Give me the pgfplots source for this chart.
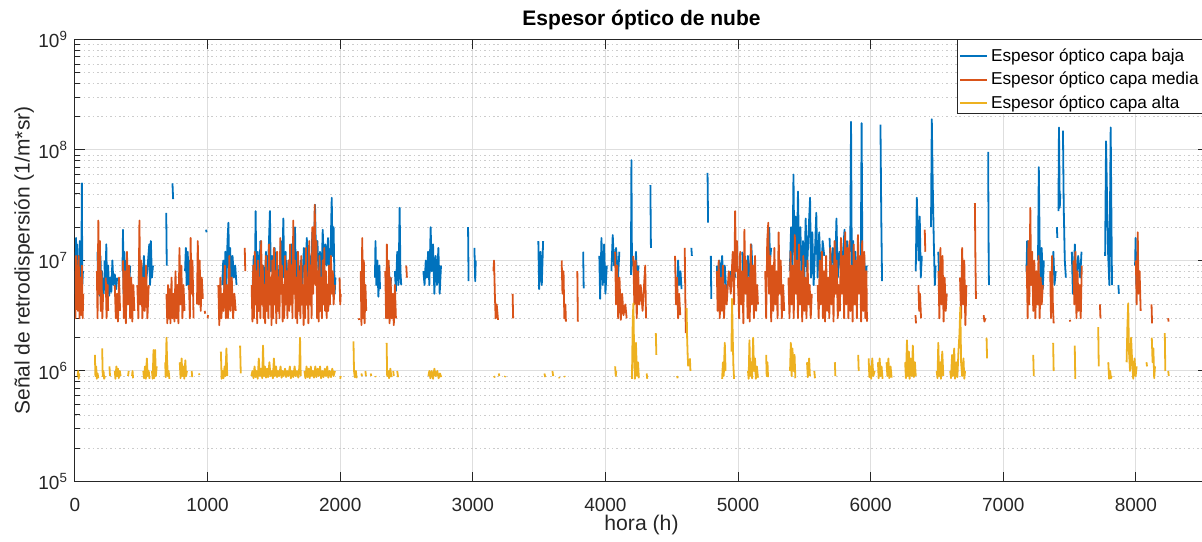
\documentclass[border=0pt]{standalone}
\usepackage{fontspec}
\setmainfont{Liberation Sans}
\usepackage{pgfplots}
\usepackage{pgfplotstable}
\pgfplotsset{compat=1.18}

\definecolor{mlblue}{rgb}{0,0.447,0.741}
\definecolor{mlorange}{rgb}{0.850,0.325,0.098}
\definecolor{mlyellow}{rgb}{0.929,0.694,0.125}
\definecolor{axgray}{rgb}{0.15,0.15,0.15}
\definecolor{gridmaj}{rgb}{0.87,0.87,0.87}
\definecolor{gridmin}{rgb}{0.80,0.80,0.80}

% capa baja (hour, backscatter); nan separates the gaps
\pgfplotstableread[row sep=\\]{
x y\\
0 1.2e7\\ 4 5e6\\ 8 1.6e7\\ 12 6e6\\ 16 1.4e7\\ 20 4.5e6\\ 25 1.1e7\\ 30 5.5e6\\ 36 1.5e7\\ 42 7e6\\ 48 9e6\\ 52 5e7\\ 55 6e6\\ 60 8e6\\ 61 nan\\
170 1.2e7\\ 174 5e6\\ 180 9e6\\ 186 4.8e6\\ 192 1.1e7\\ 198 6e6\\ 204 8e6\\ 210 5e6\\ 214 7e6\\ 215 nan\\
222 1e7\\ 228 5e6\\ 236 1.4e7\\ 242 5.5e6\\ 250 9e6\\ 258 4.8e6\\ 266 7e6\\ 274 5.2e6\\ 282 1e7\\ 290 6e6\\ 300 7.5e6\\ 310 5.5e6\\ 318 7e6\\ 319 nan\\
358 8e6\\ 362 1.9e7\\ 366 5e6\\ 372 1.2e7\\ 378 6e6\\ 386 1e7\\ 392 4.8e6\\ 400 8e6\\ 408 5.5e6\\ 416 9e6\\ 417 nan\\
480 6e6\\ 486 1.1e7\\ 492 6e6\\ 500 9e6\\ 508 5e6\\ 520 1.1e7\\ 530 6e6\\ 545 8e6\\ 560 1.4e7\\ 566 6e6\\ 572 1.5e7\\ 580 7e6\\ 588 9e6\\ 589 nan\\
688 2.7e7\\ 692 9e6\\ 693 nan\\
735 5e7\\ 740 3.6e7\\ 741 nan\\
830 8e6\\ 836 1.3e7\\ 842 6e6\\ 850 1.2e7\\ 858 5.5e6\\ 866 1e7\\ 872 6e6\\ 873 nan\\
988 1.9e7\\ 992 1.8e7\\ 993 nan\\
1110 6e6\\ 1118 1e7\\ 1126 5.5e6\\ 1134 1.2e7\\ 1142 6e6\\ 1150 1.5e7\\ 1157 2.2e7\\ 1163 7e6\\ 1170 1.3e7\\ 1178 6e6\\ 1188 1.1e7\\ 1198 7e6\\ 1208 9e6\\ 1218 6e6\\ 1219 nan\\
1340 6e6\\ 1348 1.1e7\\ 1356 5e6\\ 1362 2.8e7\\ 1368 7e6\\ 1378 1.2e7\\ 1388 5.5e6\\ 1398 1.5e7\\ 1408 6e6\\ 1418 9e6\\ 1428 5e6\\ 1440 1.2e7\\ 1450 6.5e6\\ 1462 1.4e7\\ 1470 2.8e7\\ 1476 8e6\\ 1486 1.1e7\\ 1496 5.5e6\\ 1506 1.3e7\\ 1516 6e6\\ 1528 9e6\\ 1540 5e6\\ 1552 1.5e7\\ 1562 7e6\\ 1571 2.4e7\\ 1578 7e6\\ 1588 1.2e7\\ 1598 5e6\\ 1610 1e7\\ 1622 6e6\\ 1634 1.4e7\\ 1646 7e6\\ 1659 2e7\\ 1666 6e6\\ 1678 1.2e7\\ 1690 5.5e6\\ 1702 1e7\\ 1714 6e6\\ 1726 1.3e7\\ 1738 7e6\\ 1748 1.6e7\\ 1758 6e6\\ 1770 1.1e7\\ 1780 8e6\\ 1790 1.8e7\\ 1800 9e6\\ 1810 3.2e7\\ 1818 1e7\\ 1828 1.5e7\\ 1838 7e6\\ 1848 1.2e7\\ 1858 6e6\\ 1868 1.9e7\\ 1878 8e6\\ 1888 1.4e7\\ 1898 9e6\\ 1908 1.6e7\\ 1918 7e6\\ 1928 1.3e7\\ 1936 3.7e7\\ 1942 1.1e7\\ 1950 2e7\\ 1958 5e6\\ 1964 7e6\\ 1965 nan\\
2262 7e6\\ 2266 1.5e7\\ 2272 6e6\\ 2280 1e7\\ 2288 4.7e6\\ 2296 9e6\\ 2300 5.5e6\\ 2301 nan\\
2352 1.2e7\\ 2358 6e6\\ 2366 9e6\\ 2376 5.5e6\\ 2384 7e6\\ 2385 nan\\
2412 8e6\\ 2420 5.3e6\\ 2430 1.2e7\\ 2440 6e6\\ 2448 3e7\\ 2454 8e6\\ 2460 6e6\\ 2461 nan\\
2627 8e6\\ 2636 6e6\\ 2645 1e7\\ 2654 7e6\\ 2663 1.2e7\\ 2672 6e6\\ 2682 2e7\\ 2690 8e6\\ 2700 1.4e7\\ 2710 5e6\\ 2720 1.1e7\\ 2730 6e6\\ 2740 1.3e7\\ 2750 5e6\\ 2760 9e6\\ 2761 nan\\
2964 2e7\\ 2968 6.5e6\\ 2969 nan\\
3012 1.3e7\\ 3018 6.5e6\\ 3022 1e7\\ 3023 nan\\
3494 1.5e7\\ 3500 5.5e6\\ 3510 1.2e7\\ 3520 6e6\\ 3530 1.5e7\\ 3531 nan\\
3832 1.2e7\\ 3836 5.6e6\\ 3837 nan\\
3954 1.1e7\\ 3960 4.5e6\\ 3970 1.6e7\\ 3980 6e6\\ 3990 1.4e7\\ 4000 5e6\\ 4010 9e6\\ 4011 nan\\
4045 8e6\\ 4055 1.7e7\\ 4065 9e6\\ 4080 1.3e7\\ 4095 7e6\\ 4105 1.2e7\\ 4106 nan\\
4192 7.4e6\\ 4196 8.1e7\\ 4200 9e6\\ 4210 1e7\\ 4220 5e6\\ 4230 1.2e7\\ 4240 6e6\\ 4250 9e6\\ 4251 nan\\
4339 4.8e7\\ 4343 1.3e7\\ 4344 nan\\
4540 5e6\\ 4548 1e7\\ 4556 6e6\\ 4566 8e6\\ 4574 5.5e6\\ 4575 nan\\
4648 1.3e7\\ 4652 1.1e7\\ 4653 nan\\
4770 6.2e7\\ 4774 2.2e7\\ 4775 nan\\ 4795 1.1e7\\ 4798 4.5e6\\ 4799 nan\\
4840 9e6\\ 4850 5e6\\ 4860 1e7\\ 4870 5.5e6\\ 4880 1.1e7\\ 4890 6e6\\ 4900 9e6\\ 4912 5e6\\ 4913 nan\\
4940 8e6\\ 4950 6.5e6\\ 4965 9e6\\ 4980 7e6\\ 4981 nan\\
5032 1.2e7\\ 5040 6e6\\ 5050 1e7\\ 5062 5e6\\ 5074 1.1e7\\ 5088 6e6\\ 5100 1.4e7\\ 5112 7e6\\ 5124 9e6\\ 5125 nan\\
5235 2e7\\ 5241 1e7\\ 5250 1.3e7\\ 5251 nan\\
5390 8e6\\ 5400 2e7\\ 5410 8e6\\ 5418 6e7\\ 5424 1.2e7\\ 5434 2.5e7\\ 5442 8e6\\ 5452 4.2e7\\ 5460 1e7\\ 5470 2e7\\ 5480 6e6\\ 5490 1.5e7\\ 5500 7e6\\ 5510 2.4e7\\ 5520 8e6\\ 5530 1.6e7\\ 5543 3.7e7\\ 5550 7e6\\ 5560 1.8e7\\ 5570 6e6\\ 5580 1.2e7\\ 5590 2.7e7\\ 5600 7e6\\ 5612 1.8e7\\ 5625 6e6\\ 5638 1.5e7\\ 5650 1.1e7\\ 5651 nan\\
5690 1.6e7\\ 5700 8e6\\ 5715 1.3e7\\ 5730 6e6\\ 5742 2.4e7\\ 5752 7e6\\ 5765 1.2e7\\ 5778 8e6\\ 5790 1.1e7\\ 5803 1.9e7\\ 5812 9e6\\ 5822 1.5e7\\ 5832 1e7\\ 5833 nan\\
5846 1.2e7\\ 5852 1.8e8\\ 5858 8e6\\ 5868 1.5e7\\ 5876 7e6\\ 5885 1.2e7\\ 5895 6e6\\ 5910 1e7\\ 5925 8e6\\ 5932 1.75e8\\ 5938 7e6\\ 5950 1.1e7\\ 5960 6e6\\ 5970 9e6\\ 5971 nan\\
6074 1.7e8\\ 6080 2.5e7\\ 6086 6.5e6\\ 6087 nan\\
6340 8e6\\ 6348 3.7e7\\ 6355 2e7\\ 6362 1e7\\ 6370 2.5e7\\ 6378 7e6\\ 6386 1.1e7\\ 6387 nan\\
6455 2e7\\ 6461 1.9e8\\ 6468 5e7\\ 6476 1.5e7\\ 6484 6e6\\ 6490 9e6\\ 6491 nan\\
6510 1.2e7\\ 6518 6e6\\ 6526 9e6\\ 6527 nan\\
6886 9.6e7\\ 6890 1e7\\ 6892 6e6\\ 6893 nan\\
7175 8e6\\ 7180 1.5e7\\ 7188 5e6\\ 7196 1.2e7\\ 7204 6e6\\ 7205 nan\\
7262 1e7\\ 7268 7e7\\ 7274 1.5e7\\ 7282 6e6\\ 7290 1.3e7\\ 7298 5.5e6\\ 7306 1e7\\ 7307 nan\\
7372 9e6\\ 7378 1.2e7\\ 7386 6e6\\ 7396 8e6\\ 7397 nan\\
7404 2e7\\ 7408 1.6e7\\ 7409 nan\\
7416 2.8e7\\ 7420 1.6e8\\ 7426 3e7\\ 7430 4e7\\ 7431 nan\\
7450 1.5e8\\ 7456 3e7\\ 7464 1e7\\ 7472 7e6\\ 7473 nan\\
7517 1.2e7\\ 7525 5e6\\ 7540 1.4e7\\ 7550 6e6\\ 7565 1.1e7\\ 7580 7e6\\ 7590 1.2e7\\ 7591 nan\\
7768 1.1e7\\ 7775 1.2e8\\ 7782 4e7\\ 7790 1.2e7\\ 7800 6e6\\ 7810 1.6e8\\ 7815 3e7\\ 7820 6e6\\ 7821 nan\\
7868 6e6\\ 7872 5e6\\ 7873 nan\\
7994 9e6\\ 7998 1.6e7\\ 8004 6e6\\ 8008 8e6\\ 8009 nan\\
}\capabaja

% capa media
\pgfplotstableread[row sep=\\]{
x y\\
0 8e6\\ 4 3e6\\ 8 1.1e7\\ 12 4e6\\ 16 9e6\\ 22 3.5e6\\ 28 1.1e7\\ 34 3e6\\ 40 7e6\\ 46 3.2e6\\ 52 9e6\\ 58 3e6\\ 62 5e6\\ 63 nan\\
165 8e6\\ 170 3e6\\ 176 2.3e7\\ 182 5e6\\ 188 1.5e7\\ 194 3.5e6\\ 200 8e6\\ 206 3e6\\ 212 5e6\\ 213 nan\\
232 7e6\\ 238 3e6\\ 246 6e6\\ 250 3.5e6\\ 251 nan\\
300 6e6\\ 308 3e6\\ 316 5e6\\ 324 2.8e6\\ 332 7e6\\ 340 3.5e6\\ 341 nan\\
362 1e7\\ 368 3e6\\ 376 8e6\\ 384 2.7e6\\ 392 1.2e7\\ 400 4e6\\ 408 9e6\\ 416 3e6\\ 424 7e6\\ 432 2.8e6\\ 440 6e6\\ 448 3.5e6\\ 449 nan\\
470 6e6\\ 478 3e6\\ 486 2.3e7\\ 492 4e6\\ 500 1e7\\ 508 3e6\\ 518 7e6\\ 526 3.5e6\\ 536 9e6\\ 546 3e6\\ 556 6e6\\ 557 nan\\
690 5e6\\ 696 2.7e6\\ 702 6e6\\ 708 3e6\\ 714 5.5e6\\ 720 2.7e6\\ 728 7e6\\ 734 3e6\\ 742 5e6\\ 750 2.8e6\\ 758 8e6\\ 764 3e6\\ 772 6e6\\ 780 2.7e6\\ 788 1.3e7\\ 794 4e6\\ 802 9e6\\ 810 3e6\\ 818 6e6\\ 826 3.5e6\\ 827 nan\\
860 6e6\\ 866 3e6\\ 872 1.6e7\\ 878 5e6\\ 886 1e7\\ 894 3e6\\ 895 nan\\
920 4e6\\ 926 1.5e7\\ 932 4e6\\ 940 1e7\\ 948 3.5e6\\ 956 7e6\\ 964 4.5e6\\ 965 nan\\
978 3.5e6\\ 982 3.3e6\\ 983 nan\\ 1000 3e6\\ 1003 3.2e6\\ 1004 nan\\
1081 6e6\\ 1088 2.6e6\\ 1096 7e6\\ 1104 3e6\\ 1112 5e6\\ 1120 3.5e6\\ 1130 9e6\\ 1138 3e6\\ 1146 6e6\\ 1154 3e6\\ 1164 1.1e7\\ 1172 3.5e6\\ 1182 7e6\\ 1192 3e6\\ 1202 5e6\\ 1212 3.5e6\\ 1213 nan\\
1280 1.3e7\\ 1284 8e6\\ 1285 nan\\
1332 6e6\\ 1338 2.8e6\\ 1344 9e6\\ 1350 3e6\\ 1356 1.2e7\\ 1362 4e6\\ 1368 8e6\\ 1374 2.7e6\\ 1380 1e7\\ 1386 3.5e6\\ 1392 7e6\\ 1398 3e6\\ 1404 1.5e7\\ 1410 4e6\\ 1416 9e6\\ 1422 3e6\\ 1428 6e6\\ 1434 2.7e6\\ 1440 1.1e7\\ 1446 3.5e6\\ 1452 8e6\\ 1458 3e6\\ 1464 1.4e7\\ 1470 4e6\\ 1476 7e6\\ 1482 2.6e6\\ 1488 1e7\\ 1494 3e6\\ 1500 1.3e7\\ 1506 4e6\\ 1512 8e6\\ 1518 2.7e6\\ 1524 1.2e7\\ 1530 3.5e6\\ 1536 7e6\\ 1542 3e6\\ 1548 1.6e7\\ 1554 5e6\\ 1560 9e6\\ 1566 2.8e6\\ 1572 6e6\\ 1578 3e6\\ 1584 1.1e7\\ 1590 4e6\\ 1596 8e6\\ 1602 3e6\\ 1610 1e7\\ 1616 3.5e6\\ 1622 1.4e7\\ 1628 4e6\\ 1634 9e6\\ 1640 3e6\\ 1646 2.3e7\\ 1652 5e6\\ 1658 1e7\\ 1664 3e6\\ 1670 7e6\\ 1676 2.7e6\\ 1682 1.2e7\\ 1688 3.5e6\\ 1694 8e6\\ 1700 3e6\\ 1706 1.1e7\\ 1712 4e6\\ 1718 6e6\\ 1724 2.6e6\\ 1730 9e6\\ 1736 3e6\\ 1742 1.3e7\\ 1748 4e6\\ 1754 7e6\\ 1760 2.7e6\\ 1766 1.5e7\\ 1772 4e6\\ 1778 9e6\\ 1784 3e6\\ 1790 2e7\\ 1796 5e6\\ 1802 1.2e7\\ 1808 3.2e7\\ 1814 6e6\\ 1820 1.5e7\\ 1826 3e6\\ 1832 8e6\\ 1838 2.8e6\\ 1844 1.1e7\\ 1850 3.5e6\\ 1856 7e6\\ 1862 3e6\\ 1868 1e7\\ 1874 4e6\\ 1880 1.3e7\\ 1886 3.5e6\\ 1892 8e6\\ 1898 3e6\\ 1904 6e6\\ 1910 3.5e6\\ 1916 9e6\\ 1922 4e6\\ 1930 1.1e7\\ 1936 5e6\\ 1944 8e6\\ 1950 4e6\\ 1958 6e6\\ 1959 nan\\
1995 7e6\\ 2000 4e6\\ 2004 5e6\\ 2005 nan\\
2140 3e6\\ 2143 2.9e6\\ 2144 nan\\
2155 8e6\\ 2160 2.6e6\\ 2166 1.6e7\\ 2172 3e6\\ 2178 1e7\\ 2184 2.7e6\\ 2190 6e6\\ 2196 3.5e6\\ 2197 nan\\
2340 8e6\\ 2346 3e6\\ 2352 1.4e7\\ 2358 3e6\\ 2366 1e7\\ 2372 2.7e6\\ 2380 7e6\\ 2388 3e6\\ 2396 5e6\\ 2404 2.6e6\\ 2412 6e6\\ 2420 3e6\\ 2421 nan\\
2498 9e6\\ 2503 7e6\\ 2504 nan\\
3155 8e6\\ 3160 1e7\\ 3166 5e6\\ 3172 3e6\\ 3180 4e6\\ 3190 2.9e6\\ 3191 nan\\
3300 5e6\\ 3304 3e6\\ 3305 nan\\
3670 1e7\\ 3676 5e6\\ 3684 8e6\\ 3690 3e6\\ 3698 4e6\\ 3702 2.8e6\\ 3703 nan\\
3788 8e6\\ 3792 2.8e6\\ 3793 nan\\
4073 1.2e7\\ 4080 4e6\\ 4088 9e6\\ 4096 3e6\\ 4106 7e6\\ 4116 2.9e6\\ 4126 5e6\\ 4136 3.2e6\\ 4150 4e6\\ 4160 3e6\\ 4161 nan\\
4210 1.1e7\\ 4218 4e6\\ 4228 1e7\\ 4236 3e6\\ 4246 8e6\\ 4256 4e6\\ 4266 6e6\\ 4280 3.5e6\\ 4300 9e6\\ 4306 3e6\\ 4307 nan\\
4525 1.1e7\\ 4532 4e6\\ 4540 7e6\\ 4548 3e6\\ 4556 5e6\\ 4564 3.2e6\\ 4565 nan\\
4598 1.3e7\\ 4602 5e6\\ 4606 2.2e6\\ 4607 nan\\
4840 8e6\\ 4846 3.5e6\\ 4854 1e7\\ 4862 3e6\\ 4870 7e6\\ 4878 3.5e6\\ 4886 9e6\\ 4894 3e6\\ 4904 6e6\\ 4914 4e6\\ 4930 8e6\\ 4945 5e6\\ 4960 1.2e7\\ 4970 4e6\\ 4978 2.8e7\\ 4984 8e6\\ 4992 1.5e7\\
5000 6e6\\ 5008 3e6\\ 5016 1.2e7\\ 5024 4e6\\ 5032 8e6\\ 5040 2.7e6\\ 5048 1.9e7\\ 5056 5e6\\ 5064 1e7\\ 5072 3e6\\ 5080 7e6\\ 5088 2.8e6\\ 5096 1.4e7\\ 5104 4e6\\ 5112 9e6\\ 5120 3e6\\ 5128 1.1e7\\ 5136 3.5e6\\ 5144 6e6\\ 5150 4e6\\ 5151 nan\\
5205 8e6\\ 5212 3e6\\ 5220 1.5e7\\ 5228 2.2e7\\ 5234 5e6\\ 5242 1.1e7\\ 5250 2.8e6\\ 5258 9e6\\ 5266 3.5e6\\ 5274 1.3e7\\ 5282 4e6\\ 5290 8e6\\ 5298 3e6\\ 5306 1.8e7\\ 5314 5e6\\ 5322 1e7\\ 5330 3e6\\ 5340 6e6\\ 5348 3.5e6\\ 5349 nan\\
5380 7e6\\ 5388 3e6\\ 5396 1.2e7\\ 5404 4e6\\ 5412 9e6\\ 5420 3e6\\ 5428 1.7e7\\ 5436 5e6\\ 5444 1e7\\ 5452 3e6\\ 5460 1.4e7\\ 5468 4e6\\ 5476 8e6\\ 5484 2.8e6\\ 5492 1.1e7\\ 5500 3.5e6\\ 5508 7e6\\ 5516 3e6\\ 5524 1e7\\ 5532 4e6\\ 5540 6e6\\ 5548 3e6\\ 5556 5e6\\ 5557 nan\\
5600 6e6\\ 5608 3e6\\ 5616 1e7\\ 5624 4e6\\ 5632 1.2e7\\ 5640 3e6\\ 5648 8e6\\ 5656 2.8e6\\ 5664 1.1e7\\ 5672 3.5e6\\ 5680 7e6\\ 5688 3e6\\ 5696 1.3e7\\ 5704 4e6\\ 5712 9e6\\ 5720 2.8e6\\ 5728 1.5e7\\ 5736 5e6\\ 5744 1e7\\ 5752 3e6\\ 5760 6e6\\ 5768 3.5e6\\ 5776 1.6e7\\ 5784 5e6\\ 5792 1.1e7\\ 5800 3e6\\ 5808 1.8e7\\ 5816 4e6\\ 5824 1.3e7\\ 5832 3e6\\ 5840 1.5e7\\ 5848 3.5e6\\ 5856 9e6\\ 5864 2.8e6\\ 5872 1.4e7\\ 5880 4e6\\ 5888 1e7\\ 5896 3e6\\ 5904 1.7e7\\ 5912 5e6\\ 5920 1.1e7\\ 5928 2.8e6\\ 5936 1.5e7\\ 5944 3.5e6\\ 5952 1.2e7\\ 5960 3e6\\ 5968 8e6\\ 5972 2.8e6\\ 5973 nan\\
6338 3.2e6\\ 6342 2.7e6\\ 6343 nan\\
6360 6e6\\ 6366 3.5e6\\ 6372 5e6\\ 6380 3e6\\ 6381 nan\\
6408 1.9e7\\ 6412 1.2e7\\ 6413 nan\\
6512 8e6\\ 6518 3e6\\ 6526 1.3e7\\ 6534 4e6\\ 6542 1.1e7\\ 6550 2.8e6\\ 6558 7e6\\ 6566 3.5e6\\ 6574 5e6\\ 6575 nan\\
6674 7e6\\ 6682 3e6\\ 6690 1.3e7\\ 6698 4e6\\ 6706 1e7\\ 6714 2.6e6\\ 6722 6e6\\ 6723 nan\\
6786 3.3e7\\ 6790 1e7\\ 6794 4.5e6\\ 6795 nan\\
6852 3.2e6\\ 6858 2.8e6\\ 6866 3e6\\ 6867 nan\\
7177 9e6\\ 7184 3e6\\ 7190 1.5e7\\ 7196 4e6\\ 7204 3e7\\ 7210 6e6\\ 7218 1.2e7\\ 7226 3.5e6\\ 7234 1e7\\ 7242 3e6\\ 7250 8e6\\ 7258 4e6\\ 7266 1.1e7\\ 7274 3e6\\ 7282 7e6\\ 7290 4e6\\ 7298 6e6\\ 7299 nan\\
7354 8e6\\ 7360 3e6\\ 7368 1.1e7\\ 7374 4e6\\ 7380 2.7e6\\ 7381 nan\\
7502 2.9e6\\ 7506 2.8e6\\ 7507 nan\\
7529 1e7\\ 7536 4e6\\ 7544 1.2e7\\ 7552 3e6\\ 7560 8e6\\ 7568 3.5e6\\ 7576 6e6\\ 7584 3e6\\ 7592 9e6\\ 7593 nan\\
7729 4e6\\ 7733 3e6\\ 7734 nan\\
8000 1e7\\ 8006 4e6\\ 8014 1.8e7\\ 8020 5e6\\ 8028 8e6\\ 8036 3.5e6\\ 8037 nan\\
8118 4e6\\ 8122 2.7e6\\ 8123 nan\\
8243 3e6\\ 8247 2.8e6\\ 8248 nan\\
}\capamedia

% capa alta
\pgfplotstableread[row sep=\\]{
x y\\
20 9e5\\ 24 1e6\\ 28 8.5e5\\ 32 9.5e5\\ 33 nan\\
150 1.4e6\\ 154 9e5\\ 160 1.1e6\\ 164 8.5e5\\ 170 9.5e5\\ 176 8.6e5\\ 177 nan\\
205 1.6e6\\ 209 9e5\\ 215 1e6\\ 220 8.5e5\\ 226 9e5\\ 227 nan\\
260 1.1e6\\ 264 9e5\\ 265 nan\\
300 1e6\\ 305 8.5e5\\ 312 1.1e6\\ 318 9e5\\ 324 1.05e6\\ 330 8.6e5\\ 338 1e6\\ 344 9e5\\ 345 nan\\
400 9e5\\ 405 1e6\\ 406 nan\\ 430 9e5\\ 434 1e6\\ 438 8.6e5\\ 439 nan\\
515 1e6\\ 520 8.6e5\\ 528 1.1e6\\ 534 8.5e5\\ 542 1.3e6\\ 548 9e5\\ 556 1e6\\ 562 8.5e5\\ 563 nan\\
580 1e6\\ 586 8.5e5\\ 592 1.55e6\\ 598 8.6e5\\ 604 1.55e6\\ 610 9e5\\ 616 1.1e6\\ 617 nan\\
680 1.2e6\\ 684 8.8e5\\ 690 2e6\\ 694 1.3e6\\ 700 9e5\\ 706 1e6\\ 712 8.5e5\\ 713 nan\\
790 1.2e6\\ 796 8.6e5\\ 804 1.3e6\\ 810 9e5\\ 818 1.1e6\\ 824 8.5e5\\ 832 1.25e6\\ 838 9e5\\ 844 1e6\\ 845 nan\\
880 1e6\\ 884 8.8e5\\ 885 nan\\ 935 9.5e5\\ 938 9.2e5\\ 939 nan\\
1100 1.5e6\\ 1106 8.5e5\\ 1114 1e6\\ 1120 8.6e5\\ 1128 1.1e6\\ 1134 9e5\\ 1142 1.6e6\\ 1148 9e5\\ 1149 nan\\
1245 1.7e6\\ 1250 9.5e5\\ 1251 nan\\
1330 9e5\\ 1338 1e6\\ 1346 8.6e5\\ 1354 1.1e6\\ 1362 8.8e5\\ 1370 1e6\\ 1378 8.5e5\\ 1386 1.3e6\\ 1394 9e5\\ 1404 1.05e6\\ 1412 8.6e5\\ 1418 1.7e6\\ 1424 9e5\\ 1432 1.1e6\\ 1440 8.7e5\\ 1448 1.05e6\\ 1456 8.8e5\\ 1466 1.2e6\\ 1474 9e5\\ 1484 1e6\\ 1492 8.6e5\\ 1500 1.3e6\\ 1508 9e5\\ 1516 1.1e6\\ 1524 8.8e5\\ 1532 1e6\\ 1540 9e5\\ 1550 1.1e6\\ 1558 8.7e5\\ 1566 1e6\\ 1574 9e5\\ 1584 1.05e6\\ 1592 8.8e5\\ 1600 1e6\\ 1610 9e5\\ 1620 1.1e6\\ 1628 8.6e5\\ 1636 1e6\\ 1646 8.8e5\\ 1656 1.1e6\\ 1664 9e5\\ 1674 1e6\\ 1684 8.7e5\\ 1692 1.1e6\\ 1697 2e6\\ 1702 9e5\\ 1703 nan\\
1730 1e6\\ 1738 8.6e5\\ 1746 1.1e6\\ 1754 8.8e5\\ 1762 1.05e6\\ 1770 8.6e5\\ 1778 1.1e6\\ 1786 9e5\\ 1794 1e6\\ 1802 8.7e5\\ 1812 1.1e6\\ 1820 8.8e5\\ 1830 1.05e6\\ 1838 9e5\\ 1848 1.1e6\\ 1856 8.6e5\\ 1866 1e6\\ 1874 8.8e5\\ 1884 1.05e6\\ 1892 9e5\\ 1902 1.1e6\\ 1910 8.7e5\\ 1920 1e6\\ 1930 8.8e5\\ 1940 1.05e6\\ 1950 9e5\\ 1960 1e6\\ 1961 nan\\
2000 8.5e5\\ 2004 9e5\\ 2005 nan\\
2100 1.85e6\\ 2104 1e6\\ 2110 8.8e5\\ 2118 1e6\\ 2124 8.6e5\\ 2125 nan\\
2160 9.5e5\\ 2164 9e5\\ 2165 nan\\ 2190 1e6\\ 2194 9e5\\ 2195 nan\\ 2230 9.5e5\\ 2234 9e5\\ 2235 nan\\ 2265 9e5\\ 2268 8.8e5\\ 2269 nan\\
2350 1.8e6\\ 2354 9e5\\ 2362 1e6\\ 2368 8.6e5\\ 2378 1.05e6\\ 2386 8.8e5\\ 2387 nan\\
2400 1e6\\ 2404 9e5\\ 2405 nan\\ 2430 1e6\\ 2436 8.8e5\\ 2437 nan\\
2665 9e5\\ 2672 1e6\\ 2680 8.6e5\\ 2690 1e6\\ 2700 8.5e5\\ 2710 1.05e6\\ 2720 9e5\\ 2732 1e6\\ 2742 8.6e5\\ 2752 9.5e5\\ 2762 8.8e5\\ 2763 nan\\
3160 9e5\\ 3166 8.7e5\\ 3167 nan\\ 3195 9.5e5\\ 3200 9e5\\ 3201 nan\\ 3240 8.8e5\\ 3244 9e5\\ 3245 nan\\
3540 9.5e5\\ 3546 8.8e5\\ 3547 nan\\ 3600 1e6\\ 3606 9e5\\ 3607 nan\\ 3650 8.8e5\\ 3654 8.6e5\\ 3655 nan\\ 3690 9e5\\ 3694 8.8e5\\ 3695 nan\\
4073 1.1e6\\ 4078 9e5\\ 4082 1e6\\ 4083 nan\\
4200 8.5e5\\ 4206 3e6\\ 4211 4.1e6\\ 4216 1.5e6\\ 4222 8.5e5\\ 4230 1.8e6\\ 4238 9e5\\ 4246 1.2e6\\ 4252 8.6e5\\ 4253 nan\\
4311 9.5e5\\ 4315 8.5e5\\ 4316 nan\\
4380 2.2e6\\ 4384 1.4e6\\ 4385 nan\\
4540 9e5\\ 4545 8.6e5\\ 4546 nan\\
4612 3.7e6\\ 4616 2e6\\ 4620 1.4e6\\ 4624 1.1e6\\ 4625 nan\\
4637 1.3e6\\ 4641 1e6\\ 4642 nan\\
4880 8.5e5\\ 4886 1.2e6\\ 4892 9e5\\ 4900 1.8e6\\ 4906 1e6\\ 4907 nan\\
4950 1.5e6\\ 4955 4.5e6\\ 4960 2e6\\ 4965 1.1e6\\ 4970 8.5e5\\ 4971 nan\\
5075 1e6\\ 5080 8.5e5\\ 5086 1.9e6\\ 5092 9e5\\ 5100 1.2e6\\ 5106 8.6e5\\ 5114 2e6\\ 5120 1e6\\ 5128 1.3e6\\ 5134 8.5e5\\ 5142 1.1e6\\ 5150 8.7e5\\ 5151 nan\\
5212 1.4e6\\ 5216 9e5\\ 5222 1.2e6\\ 5226 8.8e5\\ 5227 nan\\
5392 1e6\\ 5398 1.8e6\\ 5404 9e5\\ 5410 1.6e6\\ 5418 1e6\\ 5426 1.4e6\\ 5432 8.6e5\\ 5433 nan\\
5520 1.2e6\\ 5526 8.8e5\\ 5536 1.3e6\\ 5542 9e5\\ 5543 nan\\ 5575 1e6\\ 5580 8.6e5\\ 5581 nan\\
5730 1.2e6\\ 5734 9e5\\ 5735 nan\\
5906 1.4e6\\ 5910 1e6\\ 5911 nan\\
5985 1.3e6\\ 5990 8.8e5\\ 5998 1.1e6\\ 6004 8.5e5\\ 6012 1.3e6\\ 6020 9e5\\ 6030 1e6\\ 6031 nan\\
6055 1.2e6\\ 6060 8.6e5\\ 6068 1.3e6\\ 6074 9e5\\ 6082 1.1e6\\ 6090 8.5e5\\ 6091 nan\\
6120 1.2e6\\ 6126 9e5\\ 6134 1.3e6\\ 6140 8.6e5\\ 6150 1.1e6\\ 6158 8.7e5\\ 6159 nan\\
6260 1.2e6\\ 6266 8.6e5\\ 6274 1.9e6\\ 6280 9e5\\ 6288 1.5e6\\ 6294 8.5e5\\ 6302 1.3e6\\ 6310 9e5\\ 6318 1.7e6\\ 6326 8.8e5\\ 6334 1.2e6\\ 6340 9e5\\ 6341 nan\\
6498 1e6\\ 6504 8.6e5\\ 6510 1.8e6\\ 6516 9e5\\ 6524 1.2e6\\ 6530 8.5e5\\ 6540 1.5e6\\ 6548 9e5\\ 6549 nan\\
6600 1e6\\ 6606 8.6e5\\ 6614 1.4e6\\ 6620 9e5\\ 6630 1.6e6\\ 6636 8.5e5\\ 6646 1.2e6\\ 6654 8.8e5\\ 6662 1.5e6\\ 6670 2.2e6\\ 6676 3.8e6\\ 6682 1.2e6\\ 6690 9e5\\ 6700 1.3e6\\ 6706 8.5e5\\ 6712 1e6\\ 6713 nan\\
6874 2e6\\ 6878 1.3e6\\ 6879 nan\\
7226 1.4e6\\ 7230 9e5\\ 7231 nan\\
7376 1.8e6\\ 7380 1e6\\ 7381 nan\\
7539 1.7e6\\ 7543 8.5e5\\ 7544 nan\\
7716 2.5e6\\ 7720 1.1e6\\ 7721 nan\\
7792 1.2e6\\ 7798 8.5e5\\ 7806 1e6\\ 7812 8.6e5\\ 7818 9e5\\ 7819 nan\\
7930 1.2e6\\ 7936 2.5e6\\ 7942 4.1e6\\ 7948 1.5e6\\ 7956 1e6\\ 7964 2e6\\ 7972 1.2e6\\ 7980 8.5e5\\ 7990 1.3e6\\ 7998 9e5\\ 8006 1.1e6\\ 8007 nan\\
8080 1.2e6\\ 8084 1.1e6\\ 8085 nan\\
8120 2e6\\ 8126 1.2e6\\ 8132 1.6e6\\ 8138 8.6e5\\ 8144 1.1e6\\ 8145 nan\\
8218 2.2e6\\ 8222 1e6\\ 8223 nan\\
8244 1e6\\ 8248 9e5\\ 8249 nan\\
}\capaalta

\begin{document}
\begin{tikzpicture}
\path[use as bounding box] (-37.5pt,-29.75pt) rectangle (563.5pt,240.75pt);
\clip (-37.5pt,-29.75pt) rectangle (563.5pt,240.75pt);
\begin{axis}[
  scale only axis,
  width=566.5pt, height=221pt,
  ymode=log, log basis y=10,
  xmin=0, xmax=8544, ymin=1e5, ymax=1e9,
  unbounded coords=jump,
  axis line style={draw=axgray, line width=0.5pt},
  tick style={draw=axgray, line width=0.5pt},
  tick align=inside,
  major tick length=5pt, minor tick length=2.6pt,
  xtick={0,1000,2000,3000,4000,5000,6000,7000,8000},
  xticklabels={0,1000,2000,3000,4000,5000,6000,7000,8000},
  ytick={1e5,1e6,1e7,1e8,1e9},
  yticklabels={10\textsuperscript{5},10\textsuperscript{6},10\textsuperscript{7},10\textsuperscript{8},10\textsuperscript{9}},
  minor ytick={2e5,3e5,4e5,5e5,6e5,7e5,8e5,9e5,2e6,3e6,4e6,5e6,6e6,7e6,8e6,9e6,2e7,3e7,4e7,5e7,6e7,7e7,8e7,9e7,2e8,3e8,4e8,5e8,6e8,7e8,8e8,9e8},
  /pgf/number format/assume math mode=true,
  tick label style={font=\fontsize{9.5}{11}\selectfont, text=axgray},
  xticklabel style={yshift=-5pt},
  xmajorgrids, ymajorgrids, yminorgrids,
  major grid style={draw=gridmaj, line width=0.5pt},
  minor grid style={draw=gridmin, line width=0.45pt, dash pattern=on 0.8pt off 1.4pt},
  title={Espesor óptico de nube},
  every axis title shift=0pt,
  title style={font=\bfseries\fontsize{10.5}{12}\selectfont, at={(axis description cs:0.5,1.044)}, anchor=center},
  xlabel={hora (h)},
  xlabel style={font=\fontsize{10.6}{12}\selectfont, text=axgray, at={(axis description cs:0.5,-0.099)}, anchor=center},
  ylabel={Señal de retrodispersión (1/m*sr)},
  ylabel style={font=\fontsize{10.5}{12}\selectfont, text=axgray, at={(axis description cs:-0.045,0.5)}, anchor=center},
  legend style={at={(axis description cs:1,1)}, anchor=north east, xshift=-2pt,
    draw=axgray, line width=0.4pt, fill=white, text=black,
    font=\fontsize{8.6}{10}\selectfont,
    inner xsep=1pt, inner ysep=0.8pt, row sep=0pt,
    nodes={inner sep=1.5pt, text height=0.85em, text depth=0.02em}},
  legend cell align=left,
  every axis plot/.append style={line width=0.9pt, line join=round},
]
\addplot[color=mlblue, forget plot] table[x=x, y=y] {\capabaja};
\addplot[color=mlorange, forget plot] table[x=x, y=y] {\capamedia};
\addplot[color=mlyellow, forget plot] table[x=x, y=y] {\capaalta};
\addlegendimage{legend image code/.code={\draw[draw=mlblue, line width=1pt] (0pt,-0.15em) -- (13.5pt,-0.15em);}}
\addlegendentry{Espesor óptico capa baja}
\addlegendimage{legend image code/.code={\draw[draw=mlorange, line width=1pt] (0pt,-0.15em) -- (13.5pt,-0.15em);}}
\addlegendentry{Espesor óptico capa media}
\addlegendimage{legend image code/.code={\draw[draw=mlyellow, line width=1pt] (0pt,-0.15em) -- (13.5pt,-0.15em);}}
\addlegendentry{Espesor óptico capa alta}
\end{axis}
\end{tikzpicture}
\end{document}
